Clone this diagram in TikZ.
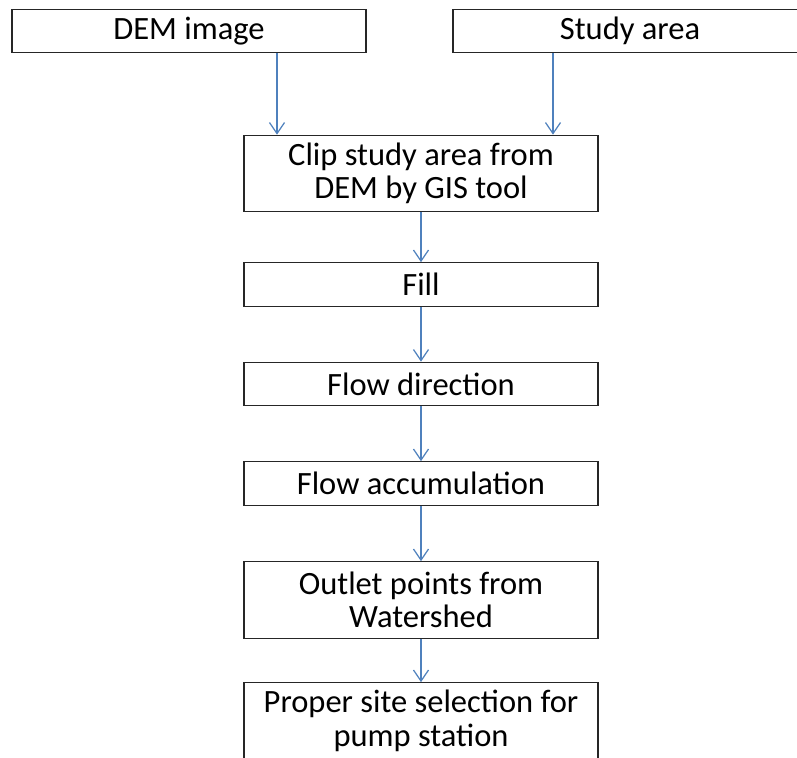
\documentclass[tikz,border=0pt]{standalone}
\usepackage{fontspec}
\setmainfont{Carlito}
\usepackage{tikz}
\usetikzlibrary{arrows.meta, positioning}
\definecolor{arrowblue}{RGB}{79,129,189}

\begin{document}
\begin{tikzpicture}[
    box/.style={rectangle, draw=black!85, line width=0.7pt, minimum width=7.08cm,
                minimum height=0.87cm, align=center, inner sep=0pt,
                font=\fontsize{18.5}{19}\selectfont},
    tallbox/.style={box, minimum height=1.53cm},
    arrow/.style={-{Straight Barb[length=2.2mm, width=3mm]}, draw=arrowblue, line width=0.7pt}
]
\useasboundingbox (0,0) rectangle (15.94,-15.14);
\clip (0,0) rectangle (15.94,-15.14);

\node[box] (dem) at (3.78,-0.62) {DEM image};
\node[box] (study) at (12.6,-0.62) {Study area};
\node[tallbox] (clip) at (8.42,-3.47) {Clip study area from\\DEM by GIS tool};
\node[box] (fill) at (8.42,-5.69) {Fill};
\node[box] (flowdir) at (8.42,-7.68) {Flow direction};
\node[box] (flowacc) at (8.42,-9.67) {Flow accumulation};
\node[tallbox] (outlet) at (8.42,-12.0) {Outlet points from\\Watershed};
\node[tallbox] (site) at (8.42,-14.42) {Proper site selection for\\pump station};

\coordinate (demx) at (5.54,0);
\coordinate (studyx) at (11.06,0);

\draw[arrow] (dem.south -| demx) -- (clip.north -| demx);
\draw[arrow] (study.south -| studyx) -- (clip.north -| studyx);
\draw[arrow] (clip) -- (fill);
\draw[arrow] (fill) -- (flowdir);
\draw[arrow] (flowdir) -- (flowacc);
\draw[arrow] (flowacc) -- (outlet);
\draw[arrow] (outlet) -- (site);
\end{tikzpicture}
\end{document}
